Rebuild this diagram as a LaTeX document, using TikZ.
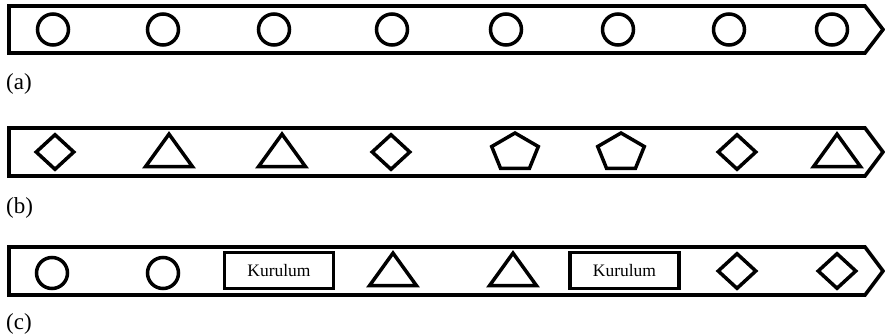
\documentclass[tikz,border=0pt]{standalone}
\usepackage{fontspec}
\setmainfont{Liberation Serif}
\usetikzlibrary{shapes.geometric}

\begin{document}
\begin{tikzpicture}[
        x=1pt, y=-1pt,
        band/.style={draw, line width=3.6pt, line join=miter},
        ring/.style={circle, draw, line width=3.5pt, minimum size=31pt, inner sep=0pt},
        rhomb/.style={diamond, draw, line width=3.5pt, minimum width=39pt, minimum height=36pt, inner sep=0pt},
        tri/.style={regular polygon, regular polygon sides=3, draw, line width=3.5pt, minimum size=54pt, inner sep=0pt, yscale=0.8},
        penta/.style={regular polygon, regular polygon sides=5, draw, line width=3.5pt, minimum size=49pt, inner sep=0pt, yscale=0.8},
        stage/.style={rectangle, draw, line width=3.8pt, minimum width=109pt, minimum height=36pt, inner sep=0pt, font=\fontsize{17.5}{20}\selectfont},
        caption/.style={anchor=west, inner sep=0pt, font=\fontsize{23}{27}\selectfont}
    ]
        \useasboundingbox (0,0) rectangle (885,335);

        % Row a: only circles
        \draw[band] (9,6) -- (865,6) -- (883,29.5) -- (865,53) -- (9,53) -- cycle;
        \node[ring] (rowa_c1) at (53,29.5) {};
        \node[ring] (rowa_c2) at (163,29.5) {};
        \node[ring] (rowa_c3) at (274,29.5) {};
        \node[ring] (rowa_c4) at (392,29.5) {};
        \node[ring] (rowa_c5) at (506,29.5) {};
        \node[ring] (rowa_c6) at (618,29.5) {};
        \node[ring] (rowa_c7) at (729,29.5) {};
        \node[ring] (rowa_c8) at (832,29.5) {};
        \node[caption] (rowa_label) at (6,83.5) {(a)};

        % Row b: mixed shapes
        \draw[band] (9,128) -- (865,128) -- (883,152) -- (865,176) -- (9,176) -- cycle;
        \node[rhomb] (rowb_d1) at (55,152) {};
        \node[tri] (rowb_t1) at (169,155.7) {};
        \node[tri] (rowb_t2) at (282,155.7) {};
        \node[rhomb] (rowb_d2) at (391,152) {};
        \node[penta] (rowb_p1) at (515,152.6) {};
        \node[penta] (rowb_p2) at (621,152.6) {};
        \node[rhomb] (rowb_d3) at (737,152) {};
        \node[tri] (rowb_t3) at (837,155.7) {};
        \node[caption] (rowb_label) at (6,208) {(b)};

        % Row c: circles, boxes, triangles, diamonds
        \draw[band] (9,247) -- (865,247) -- (883,271) -- (865,295) -- (9,295) -- cycle;
        \node[ring] (rowc_c1) at (52,273) {};
        \node[ring] (rowc_c2) at (163,273) {};
        \node[stage] (rowc_k1) at (279,270.5) {Kurulum};
        \node[tri] (rowc_t1) at (393,274.7) {};
        \node[tri] (rowc_t2) at (513,274.7) {};
        \node[stage] (rowc_k2) at (624.5,270.5) {Kurulum};
        \node[rhomb] (rowc_d1) at (737,271) {};
        \node[rhomb] (rowc_d2) at (837,271) {};
        \node[caption] (rowc_label) at (6,324) {(c)};
    \end{tikzpicture}
\end{document}
